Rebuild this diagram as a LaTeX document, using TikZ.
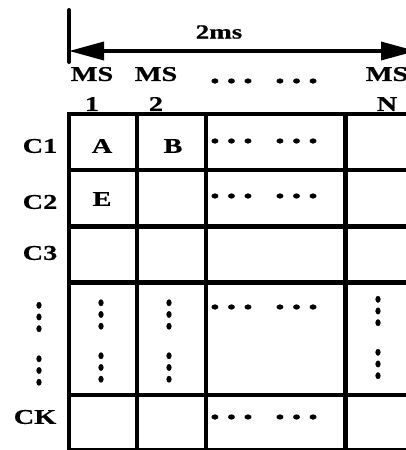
\documentclass[tikz,border=0pt]{standalone}
\usepackage{fontspec}
\setmainfont[FakeStretch=1.35, BoldFeatures={FakeBold=0.6}]{Liberation Serif}
\usetikzlibrary{arrows.meta}

% dot groups
\newcommand{\rowdots}{.\hspace{6.4pt}.\hspace{6.4pt}.\hspace{21.9pt}.\hspace{6.4pt}.\hspace{6.4pt}.}
\newcommand{\coldots}{.\hspace{1.6pt}.\hspace{1.6pt}.}

\begin{document}
\begin{tikzpicture}[
  x=1pt, y=-1pt,
  font=\fontsize{21}{30}\selectfont\bfseries,
  grid/.style={line width=4.5pt},
  lab/.style={inner sep=0pt, align=center},
  rdots/.style={inner sep=0pt, anchor=base, font=\fontsize{30}{30}\selectfont\bfseries},
  cdots/.style={rdots, rotate=-90},
  spanarr/.style={line width=3.5pt,
    {Triangle[length=35pt,width=18pt]}-{Triangle[length=35pt,width=18pt]}}
]
\useasboundingbox (0,0) rectangle (406,450);

% ---------------- time span ----------------
\coordinate (ticktop) at (69,10);
\coordinate (tickbot) at (69,62);
\coordinate (spanl) at (69,51);
\coordinate (spanr) at (416,51);
\draw[line width=4pt, line cap=round] (ticktop) -- (tickbot);
\draw[spanarr] (spanl) -- (spanr);
\node[lab, font=\fontsize{20}{24}\selectfont\bfseries] (spanlab) at (219,32) {2ms};

% ---------------- mini-slot headers ----------------
\node[lab] (ms1) at (92,89) {MS\\1};
\node[lab] (ms2) at (156,89) {MS\\2};
\node[lab] (msn) at (387,89) {MS\\N};
\node[rdots] (msdots) at (264,83) {\rowdots};

% ---------------- grid ----------------
\draw[grid] (420,114) -- (69,114) -- (69,452);
\foreach \x in {137,206,345.5}
  \draw[grid] (\x,114) -- (\x,452);
\foreach \y in {170,226.5,282.5,395,450}
  \draw[grid] (69,\y) -- (420,\y);

% ---------------- row labels ----------------
\node[lab] (c1) at (40,146) {C1};
\node[lab] (c2) at (40,202) {C2};
\node[lab] (c3) at (40,253) {C3};
\node[cdots] (cdotsa) at (37,317) {\coldots};
\node[cdots] (cdotsb) at (37,370.5) {\coldots};
\node[lab] (ck) at (35,417) {CK};

% ---------------- cells ----------------
\node[lab] (cella) at (102,146) {A};
\node[lab] (cellb) at (173,146) {B};
\node[lab] (celle) at (102,199) {E};
\node[rdots] (c1dots) at (264,143) {\rowdots};
\node[rdots] (c2dots) at (264,198) {\rowdots};
\node[rdots] (midots) at (264,309) {\rowdots};
\node[rdots] (ckdots) at (264,419) {\rowdots};
\node[cdots] (m1a) at (99,314.5) {\coldots};
\node[cdots] (m1b) at (99,367.5) {\coldots};
\node[cdots] (m2a) at (167,314.5) {\coldots};
\node[cdots] (m2b) at (167,367.5) {\coldots};
\node[cdots] (mna) at (376,311) {\coldots};
\node[cdots] (mnb) at (376,364) {\coldots};

\end{tikzpicture}
\end{document}
